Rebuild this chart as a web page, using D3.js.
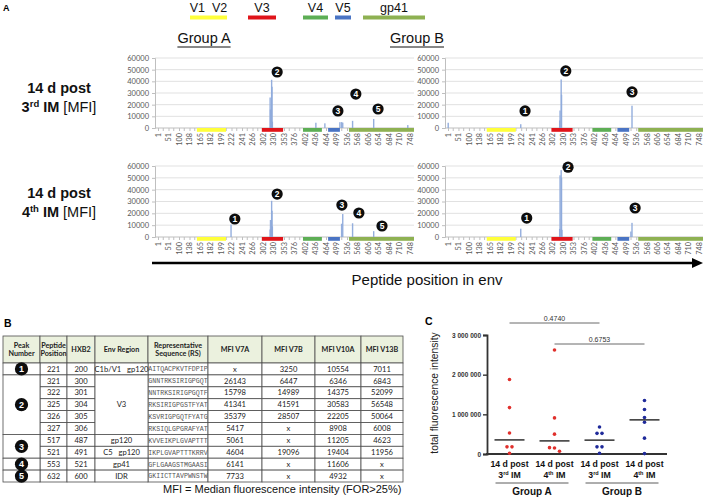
<!DOCTYPE html>
<html><head><meta charset="utf-8">
<script src="https://cdn.jsdelivr.net/npm/d3@7"></script>
<style>body{margin:0;background:#fff} svg{display:block}</style>
</head><body>
<svg id="fig" width="708" height="500"></svg>
<script>
// ---------------- DATA ----------------
const tickLabels = [1,51,100,138,165,182,199,222,241,266,302,330,353,376,402,436,464,499,536,568,606,654,684,710,748];
const yTicks = [0,10000,20000,30000,40000,50000,60000];
const regionNames = ["V1  V2","V3","V4","V5","gp41"];
const regionStart = [157,298,397,471,542];
const regionEnd = [210,351,453,511,775];
const regionColors = ["#ffff3a","#e0141a","#5dae55","#4a74c4","#8eb152"];

const peakNumber = [1,2,2,2,2,2,3,3,4,5];
const peptidePosition = [221,321,322,325,326,327,517,521,553,632];
const hxb2 = [200,300,301,304,305,306,487,491,521,600];
const envRegion = ["C1b/V1   gp120","V3","","","","","gp120","C5   gp120","gp41","IDR"];
const sequences = ["AITQACPKVTFDPIP","GNNTRKSIRIGPGQT","NNTRKSIRIGPGQTF","RKSIRIGPGSTFYAT","KSVRIGPGQTFYATG","RKSIQLGPGRAFYAT","KVVEIKPLGVAPTTT","IKPLGVAPTTTKRRV","GFLGAAGSTMGAASI","GKIICTTAVPWNSTW"];
const mfiV7A  = [null,26143,15798,41341,35379,5417,5061,4604,6141,7733];
const mfiV7B  = [3250,6447,14989,41591,28507,null,null,19096,null,null];
const mfiV10A = [10554,6346,14375,30583,22205,8908,11205,19404,11606,4932];
const mfiV13B = [7011,6843,52099,56548,50064,6008,4623,11956,null,null];
const tableHeaders = ["Peak|Number","Peptide|Position","HXB2","Env Region","Representative|Sequence (RS)","MFI V7A","MFI V7B","MFI V10A","MFI V13B"];

// small background peaks visible in the profiles (estimated, not in table)
const extraV7A  = [[437,4500],[461,4000],[511,5000],[740,2500]];
const extraV7B  = [[2,4500]];
const extraV10A = [];
const extraV13B = [];

// peak-number annotations: [number, peptide position, MFI level]
const markersV7A  = [[2,338,48000],[3,504,14600],[4,563,29100],[5,652,16300]];
const markersV7B  = [[1,229,14600],[2,336,48900],[3,521,30900]];
const markersV10A = [[1,228,15200],[2,338,36300],[3,518,27000],[4,573,20300],[5,664,9300]];
const markersV13B = [[1,232,16000],[2,341,59000],[3,532,24500]];

// Panel C
const cCategories = ["3rd","4th","3rd","4th"];
const cGroups = ["Group A","Group B"];
const tfiA3 = [1880000,1170000,530000,180000,180000,20000];
const tfiA4 = [2620000,910000,500000,160000,150000,70000];
const tfiB3 = [680000,520000,520000,180000,180000,20000];
const tfiB4 = [1350000,1120000,920000,800000,400000,10000];
const cTicks = [0,1000000,2000000,3000000];
const pLabels = ["0.4740","0.6753"];
const pPairs = [[0,2],[1,3]];

// ---------------- DRAW ----------------
const svg = d3.select("#fig");
const SANS = "'Liberation Sans', Arial, sans-serif";
const LATO = "Lato, 'Open Sans', sans-serif";
const MONO = "'Liberation Mono', 'Courier New', monospace";

// Panel letters
svg.append("text").attr("x",3).attr("y",11).text("A").attr("font-family",SANS).attr("font-weight","bold").attr("font-size",9);
svg.append("text").attr("x",4).attr("y",327).text("B").attr("font-family",SANS).attr("font-weight","bold").attr("font-size",10.5);
svg.append("text").attr("x",425).attr("y",325).text("C").attr("font-family",SANS).attr("font-weight","bold").attr("font-size",10.5);

// Region legend at top
const legendSpan = [[190,227],[248,276],[303,328],[335,351],[363,425]];
regionNames.forEach((n,i)=>{
  const [a,b] = legendSpan[i];
  svg.append("rect").attr("x",a).attr("y",15.5).attr("width",b-a).attr("height",4).attr("fill",regionColors[i]);
  svg.append("text").attr("x",(a+b)/2).attr("y",12).attr("text-anchor","middle").style("white-space","pre")
    .attr("font-family",SANS).attr("font-size",12.5).attr("fill","#111").text(n);
});

// Group titles
[["Group A",204],["Group B",417]].forEach(([t,cx])=>{
  const tx = svg.append("text").attr("x",cx).attr("y",43).attr("text-anchor","middle")
    .attr("font-family",SANS).attr("font-size",14.5).attr("fill","#111").text(t);
  const w = tx.node().getComputedTextLength();
  svg.append("line").attr("x1",cx-w/2).attr("x2",cx+w/2).attr("y1",47).attr("y2",47).attr("stroke","#111").attr("stroke-width",1);
});

// Row labels
function rowLabel(y, num, sup){
  svg.append("text").attr("x",59).attr("y",y).attr("text-anchor","middle").attr("font-family",SANS)
    .attr("font-weight","bold").attr("font-size",14.5).attr("fill","#111").text("14 d post");
  const t = svg.append("text").attr("x",59).attr("y",y+19).attr("text-anchor","middle").attr("font-family",SANS)
    .attr("font-size",14.5).attr("fill","#111");
  t.append("tspan").attr("font-weight","bold").text(num);
  t.append("tspan").attr("font-weight","bold").attr("font-size",9.5).attr("dy",-5).text(sup);
  t.append("tspan").attr("font-weight","bold").attr("dy",5).text(" IM");
  t.append("tspan").text(" [MFI]");
}
rowLabel(93,"3","rd");
rowLabel(198,"4","th");

// Profile charts
const charts = [
  {vals:mfiV7A, extra:extraV7A, marks:markersV7A, x0:158, x1:410, y0:128, yTop:58},
  {vals:mfiV7B, extra:extraV7B, marks:markersV7B, x0:448, x1:699, y0:128, yTop:58},
  {vals:mfiV10A, extra:extraV10A, marks:markersV10A, x0:158, x1:410, y0:237, yTop:166},
  {vals:mfiV13B, extra:extraV13B, marks:markersV13B, x0:448, x1:699, y0:237, yTop:166}
];
charts.forEach(c=>{
  const g = svg.append("g");
  const n = tickLabels.length;
  const xs = d3.scaleLinear().domain(tickLabels).range(tickLabels.map((d,i)=>c.x0 + i*(c.x1-c.x0)/(n-1)));
  const ys = d3.scaleLinear().domain([0,60000]).range([c.y0,c.yTop]);
  const ax = c.x0-3;
  g.selectAll(".grid").data(yTicks.filter(d=>d>0)).join("line")
    .attr("x1",ax).attr("x2",c.x1+4).attr("y1",d=>ys(d)).attr("y2",d=>ys(d))
    .attr("stroke","#d9d9d9").attr("stroke-width",0.8);
  const yAxis = g.append("g").attr("transform",`translate(${ax},0)`)
    .call(d3.axisLeft(ys).tickValues(yTicks).tickSize(3).tickPadding(3).tickFormat(d3.format("d")));
  yAxis.select(".domain").attr("stroke","#bfbfbf");
  yAxis.selectAll(".tick line").attr("stroke","#bfbfbf");
  yAxis.selectAll("text").attr("font-family",LATO).attr("font-size",7.5).attr("fill","#595959");
  const xAxis = g.append("g").attr("transform",`translate(0,${c.y0})`)
    .call(d3.axisBottom(xs).tickValues(tickLabels).tickSize(3).tickSizeOuter(0));
  xAxis.select(".domain").remove();
  g.append("line").attr("x1",ax).attr("x2",c.x1+4).attr("y1",c.y0).attr("y2",c.y0).attr("stroke","#bfbfbf");
  xAxis.selectAll(".tick line").attr("stroke","#bfbfbf");
  xAxis.selectAll("text").attr("transform","rotate(-90)").attr("x",-5).attr("y",0).attr("dy","0.32em")
    .style("text-anchor","end").attr("font-family",LATO).attr("font-size",7.3).attr("fill","#595959");
  const mids = d3.pairs(tickLabels).map(([a,b])=>(xs(a)+xs(b))/2);
  g.selectAll(".minor").data(mids).join("line").attr("x1",d=>d).attr("x2",d=>d)
    .attr("y1",c.y0).attr("y2",c.y0+3).attr("stroke","#bfbfbf");
  regionNames.forEach((nm,i)=>{
    const a = xs(regionStart[i]), b = Math.min(xs(regionEnd[i]), c.x1+4);
    g.append("rect").attr("x",a).attr("y",c.y0).attr("width",b-a).attr("height",3.8).attr("fill",regionColors[i]);
  });
  const pts = [];
  peptidePosition.forEach((p,i)=>{ if(c.vals[i]!=null) pts.push([p,c.vals[i]]); });
  c.extra.forEach(d=>pts.push(d));
  pts.sort((a,b)=>b[1]-a[1]);
  g.selectAll(".pk").data(pts).join("rect")
    .attr("x",d=>xs(d[0])-0.7).attr("width",1.4)
    .attr("y",d=>ys(d[1])).attr("height",d=>c.y0-ys(d[1]))
    .attr("fill","#8eaadb").attr("opacity",0.95);
  c.marks.forEach(([num,p,v])=>{
    g.append("circle").attr("cx",xs(p)).attr("cy",ys(v)).attr("r",5.6).attr("fill","#0d0d0d");
    g.append("text").attr("x",xs(p)).attr("y",ys(v)).attr("dy","0.36em").attr("text-anchor","middle")
      .attr("font-family",SANS).attr("font-weight","bold").attr("font-size",8.5).attr("fill","#fff").text(num);
  });
});

// Arrow
svg.append("line").attr("x1",152).attr("x2",693).attr("y1",263).attr("y2",263).attr("stroke","#000").attr("stroke-width",2.4);
svg.append("path").attr("d","M692,258 L703,263 L692,268 Z").attr("fill","#000");
svg.append("text").attr("x",427).attr("y",285).attr("text-anchor","middle").attr("font-family",SANS)
  .attr("font-size",15).attr("fill","#111").text("Peptide position in env");

// ---------------- TABLE ----------------
const colX = [3,40,67,95,148,208,262,315,361,403];
const tTop = 336, headH = 27, rowH = 11.9;
const rowY = i => tTop + headH + i*rowH;
const tg = svg.append("g");
tableHeaders.forEach((h,j)=>{
  tg.append("rect").attr("x",colX[j]).attr("y",tTop).attr("width",colX[j+1]-colX[j]).attr("height",headH)
    .attr("fill","#ebf1de").attr("stroke","#4d4d4d").attr("stroke-width",0.8);
  const lines = h.split("|");
  lines.forEach((ln,k)=>{
    tg.append("text").attr("x",(colX[j]+colX[j+1])/2).attr("y",tTop+headH/2 + (k-(lines.length-1)/2)*8.8).attr("dy","0.35em")
      .attr("text-anchor","middle").attr("font-family",LATO).attr("font-weight","bold").attr("font-size",7.2).attr("fill","#222").text(ln);
  });
});
function spans(arr, isCont){
  const out = [];
  arr.forEach((v,i)=>{
    if(i>0 && isCont(arr,i)) out[out.length-1].n++;
    else out.push({start:i,n:1,v:v});
  });
  return out;
}
const peakSpans = spans(peakNumber,(a,i)=>a[i]===a[i-1]);
const envSpans = spans(envRegion,(a,i)=>a[i]==="");
function cell(j, r0, n){
  tg.append("rect").attr("x",colX[j]).attr("y",rowY(r0)).attr("width",colX[j+1]-colX[j]).attr("height",n*rowH)
    .attr("fill","#fff").attr("stroke","#4d4d4d").attr("stroke-width",0.8);
}
function ctext(j, r0, n, t, opts={}){
  tg.append("text").attr("x",(colX[j]+colX[j+1])/2).attr("y",rowY(r0)+n*rowH/2).attr("dy","0.36em")
    .attr("text-anchor","middle").style("white-space","pre")
    .attr("font-family",opts.font||LATO).attr("font-size",opts.size||7.6).attr("fill",opts.fill||"#222")
    .text(t);
}
const fmt = v => v==null ? "x" : String(v);
peptidePosition.forEach((p,i)=>{
  [1,2,4,5,6,7,8].forEach(j=>cell(j,i,1));
});
peakSpans.forEach(s=>cell(0,s.start,s.n));
envSpans.forEach(s=>cell(3,s.start,s.n));
peptidePosition.forEach((p,i)=>{
  ctext(1,i,1,p); ctext(2,i,1,hxb2[i]);
  ctext(4,i,1,sequences[i],{font:MONO,size:6.6,fill:"#555"});
  ctext(5,i,1,fmt(mfiV7A[i])); ctext(6,i,1,fmt(mfiV7B[i])); ctext(7,i,1,fmt(mfiV10A[i])); ctext(8,i,1,fmt(mfiV13B[i]));
});
envSpans.forEach(s=>ctext(3,s.start,s.n,s.v));
peakSpans.forEach(s=>{
  const cx = (colX[0]+colX[1])/2, cy = rowY(s.start)+s.n*rowH/2;
  tg.append("circle").attr("cx",cx).attr("cy",cy).attr("r",6.6).attr("fill","#0d0d0d");
  tg.append("text").attr("x",cx).attr("y",cy).attr("dy","0.36em").attr("text-anchor","middle")
    .attr("font-family",SANS).attr("font-weight","bold").attr("font-size",9).attr("fill","#fff").text(s.v);
});
svg.append("text").attr("x",163).attr("y",493).attr("font-family",SANS).attr("font-size",11).attr("fill","#111")
  .text("MFI = Median fluorescence intensity (FOR>25%)");

// ---------------- PANEL C ----------------
const cData = [tfiA3,tfiA4,tfiB3,tfiB4];
const yC = d3.scaleLinear().domain([0,3000000]).range([454,335]);
const xC = d3.scaleBand().domain(d3.range(4)).range([487,667]);
const ctr = i => xC(i)+xC.bandwidth()/2;
const cg = svg.append("g");
const yAx = cg.append("g").attr("transform","translate(487,0)")
  .call(d3.axisLeft(yC).tickValues(cTicks).tickSize(4).tickPadding(2)
    .tickFormat(d=>d3.format(",")(d).replace(/,/g," ")));
yAx.select(".domain").attr("stroke","#333").attr("stroke-width",1.8);
yAx.selectAll(".tick line").attr("stroke","#333").attr("stroke-width",1.4);
yAx.selectAll("text").attr("font-family",SANS).attr("font-weight","bold").attr("font-size",6.5).attr("fill","#333");
cg.append("line").attr("x1",486).attr("x2",667).attr("y1",454).attr("y2",454).attr("stroke","#333").attr("stroke-width",1.8);
cg.append("text").attr("transform","translate(438,393) rotate(-90)").attr("text-anchor","middle")
  .attr("font-family",SANS).attr("font-size",10.3).attr("fill","#222").text("total fluorescence intensity");
cData.forEach((vals,i)=>{
  const col = i<2 ? "#e0302c" : "#1f2a9a";
  const sorted = vals.slice().sort((a,b)=>b-a);
  const clusters = [];
  sorted.forEach(v=>{
    const last = clusters[clusters.length-1];
    if(last && Math.abs(yC(last[last.length-1])-yC(v))<4) last.push(v); else clusters.push([v]);
  });
  clusters.forEach(cl=>{
    cl.forEach((v,k)=>{
      cg.append("circle").attr("cx",ctr(i)+(k-(cl.length-1)/2)*5).attr("cy",yC(v)).attr("r",1.8).attr("fill",col);
    });
  });
  const med = d3.median(vals);
  cg.append("line").attr("x1",ctr(i)-15).attr("x2",ctr(i)+15).attr("y1",yC(med)).attr("y2",yC(med))
    .attr("stroke","#111").attr("stroke-width",1.3);
  cg.append("text").attr("x",ctr(i)).attr("y",467).attr("text-anchor","middle").attr("font-family",SANS)
    .attr("font-weight","bold").attr("font-size",8.7).attr("fill","#111").text("14 d post");
  const t = cg.append("text").attr("x",ctr(i)).attr("y",477.5).attr("text-anchor","middle").attr("font-family",SANS)
    .attr("font-weight","bold").attr("font-size",8.7).attr("fill","#111");
  t.append("tspan").text(cCategories[i].slice(0,1));
  t.append("tspan").attr("font-size",5.5).attr("dy",-3).text(cCategories[i].slice(1));
  t.append("tspan").attr("dy",3).text(" IM");
});
cGroups.forEach((gname,k)=>{
  const a = ctr(2*k), b = ctr(2*k+1);
  cg.append("line").attr("x1",a-14).attr("x2",b+14).attr("y1",483).attr("y2",483).attr("stroke","#333").attr("stroke-width",0.8);
  cg.append("text").attr("x",(a+b)/2).attr("y",495).attr("text-anchor","middle").attr("font-family",SANS)
    .attr("font-weight","bold").attr("font-size",10).attr("fill","#111").text(gname);
});
const pY = [323,344];
pLabels.forEach((lab,k)=>{
  const [a,b] = pPairs[k];
  cg.append("line").attr("x1",ctr(a)).attr("x2",ctr(b)).attr("y1",pY[k]).attr("y2",pY[k]).attr("stroke","#444").attr("stroke-width",0.8);
  cg.append("text").attr("x",(ctr(a)+ctr(b))/2).attr("y",pY[k]-2.5).attr("text-anchor","middle")
    .attr("font-family",SANS).attr("font-size",7).attr("fill","#333").text(lab);
});
</script>
</body></html>
